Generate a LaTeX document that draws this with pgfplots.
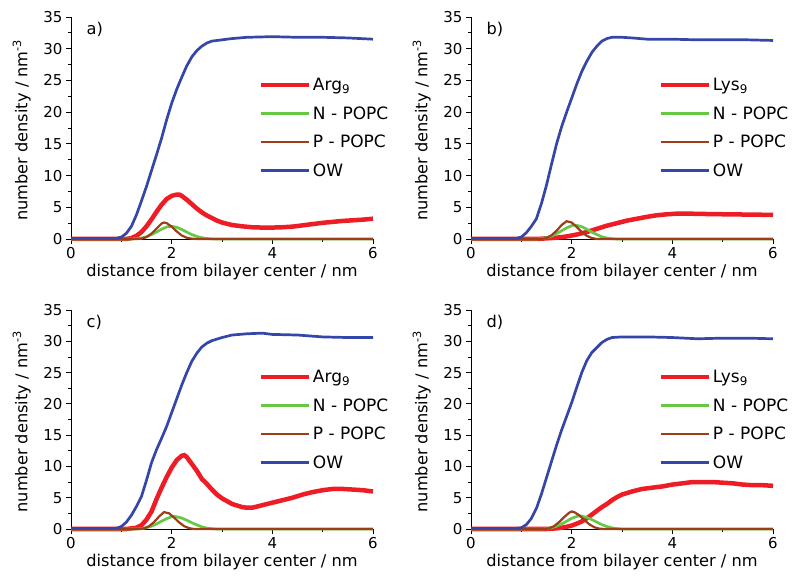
\documentclass[border=0pt]{standalone}
\usepackage{pgfplots}
\pgfplotsset{compat=1.18}
\usepackage{fontspec}
\setmainfont{DejaVu Sans}
\definecolor{cred}{HTML}{EE1C24}
\definecolor{cgreen}{HTML}{66C844}
\definecolor{cbrown}{HTML}{9E3E18}
\definecolor{cblue}{HTML}{3446A8}
\newcommand\ff{\fontsize{16.2bp}{19bp}\selectfont}
\newcommand\ft{\fontsize{15bp}{18bp}\selectfont}
\newcommand\fl{\fontsize{17bp}{20bp}\selectfont}
\pgfplotsset{
  panel/.style={
    scale only axis, width=302bp,
    xmin=0, xmax=6, ymin=0, ymax=35,
    axis x line*=bottom, axis y line*=left,
    axis line style={black, line width=0.8bp},
    xtick={0,2,4,6}, ytick={0,5,...,35},
    minor x tick num=1, minor y tick num=1,
    tick align=outside,
    major tick length=5bp, minor tick length=3bp,
    every tick/.style={black, line width=0.8bp},
    /pgf/number format/assume math mode=true,
    tick label style={font=\ft},
    label style={font=\ff},
    xlabel={distance from bilayer center / nm},
    ylabel={number density / nm\textsuperscript{-3}},
    xlabel style={at={(axis description cs:0.5,0)}, anchor=center, yshift=-33bp},
    ylabel style={at={(axis description cs:-0.163,0.49)}, anchor=center},
    clip=false,
    legend cell align=left,
    legend style={at={(rel axis cs:0.62,0.735)}, anchor=north west, draw=none, fill=none,
      font=\fl, row sep=10.5bp, inner sep=0pt},
    legend image code/.code={\draw[#1] (0bp,0bp) -- (48bp,0bp);},
  },
  sred/.style={cred, line width=4.5bp},
  sgreen/.style={cgreen, line width=2.7bp},
  sbrown/.style={cbrown, line width=2.2bp},
  sblue/.style={cblue, line width=2.7bp},
}
\begin{document}
\begin{tikzpicture}
\useasboundingbox (0bp,0bp) rectangle (800bp,588bp);
% ---------------- a)
\begin{axis}[panel, at={(71bp,349bp)}, height=222bp]
\addplot[sred] coordinates {(0,0) (1.1,0) (1.2,0.15) (1.3,0.5) (1.4,1.1) (1.5,2.0) (1.6,3.1) (1.7,4.3) (1.8,5.4) (1.9,6.3) (2.0,6.8) (2.1,7.0) (2.15,7.0) (2.2,6.8) (2.3,6.2) (2.4,5.5) (2.5,4.8) (2.6,4.2) (2.7,3.7) (2.8,3.3) (2.9,2.9) (3.0,2.6) (3.2,2.2) (3.4,2.0) (3.6,1.85) (3.8,1.8) (4.0,1.8) (4.2,1.85) (4.4,1.95) (4.6,2.15) (4.8,2.35) (5.0,2.55) (5.2,2.7) (5.4,2.85) (5.6,2.95) (5.8,3.05) (6.0,3.2)};
\addlegendentry{Arg\textsubscript{9}}
\addplot[sgreen] coordinates {(0,0) (1.2,0) (1.3,0.05) (1.4,0.15) (1.5,0.35) (1.6,0.7) (1.7,1.1) (1.8,1.55) (1.9,1.9) (2.0,2.0) (2.1,1.85) (2.2,1.5) (2.3,1.1) (2.4,0.7) (2.5,0.4) (2.6,0.2) (2.7,0.08) (2.8,0.02) (2.9,0) (6,0)};
\addlegendentry{N - POPC}
\addplot[sbrown] coordinates {(0,0) (1.3,0) (1.4,0.05) (1.5,0.3) (1.6,0.85) (1.7,1.65) (1.8,2.45) (1.85,2.6) (1.9,2.5) (2.0,1.95) (2.1,1.2) (2.2,0.55) (2.3,0.2) (2.4,0.05) (2.5,0) (6,0)};
\addlegendentry{P - POPC}
\addplot[sblue] coordinates {(0,0.1) (0.9,0.1) (1.0,0.3) (1.1,0.9) (1.2,2.0) (1.3,3.8) (1.4,6.0) (1.5,8.3) (1.6,10.8) (1.7,13.3) (1.8,15.9) (1.9,18.8) (2.0,21.4) (2.1,23.6) (2.2,25.5) (2.3,27.3) (2.4,28.7) (2.5,29.7) (2.6,30.4) (2.7,30.9) (2.8,31.2) (3.0,31.4) (3.2,31.6) (3.5,31.8) (4.0,31.9) (4.5,31.8) (5.0,31.8) (5.5,31.7) (6.0,31.5)};
\addlegendentry{OW}
\node[anchor=west, font=\ff] at (rel axis cs:0.04,0.946) {a)};
\end{axis}
% ---------------- b)
\begin{axis}[panel, at={(471bp,349bp)}, height=222bp]
\addplot[sred] coordinates {(0,0) (1.3,0) (1.5,0.1) (1.7,0.2) (1.9,0.4) (2.1,0.7) (2.3,1.1) (2.5,1.6) (2.7,2.1) (2.9,2.5) (3.1,2.9) (3.3,3.2) (3.5,3.5) (3.7,3.75) (3.9,3.9) (4.1,4.0) (4.3,4.0) (4.6,3.95) (5.0,3.9) (5.5,3.85) (6.0,3.8)};
\addlegendentry{Lys\textsubscript{9}}
\addplot[sgreen] coordinates {(0,0) (1.3,0) (1.4,0.05) (1.5,0.2) (1.6,0.45) (1.7,0.85) (1.8,1.3) (1.9,1.75) (2.0,2.1) (2.05,2.2) (2.1,2.15) (2.2,1.95) (2.3,1.55) (2.4,1.1) (2.5,0.7) (2.6,0.35) (2.7,0.15) (2.8,0.05) (2.9,0) (6,0)};
\addlegendentry{N - POPC}
\addplot[sbrown] coordinates {(0,0) (1.4,0) (1.5,0.15) (1.6,0.6) (1.7,1.3) (1.8,2.2) (1.9,2.8) (2.0,2.6) (2.1,1.9) (2.2,1.1) (2.3,0.5) (2.4,0.15) (2.5,0) (6,0)};
\addlegendentry{P - POPC}
\addplot[sblue] coordinates {(0,0.1) (0.9,0.1) (1.0,0.3) (1.1,1.0) (1.2,2.0) (1.3,3.2) (1.4,5.6) (1.5,8.5) (1.6,11.8) (1.7,15.0) (1.8,17.7) (1.9,20.0) (2.0,22.2) (2.1,24.4) (2.2,26.4) (2.3,28.0) (2.4,29.4) (2.5,30.4) (2.6,31.2) (2.7,31.6) (2.8,31.8) (3.0,31.8) (3.2,31.7) (3.5,31.5) (4.0,31.5) (4.5,31.4) (5.0,31.4) (5.5,31.4) (6.0,31.3)};
\addlegendentry{OW}
\node[anchor=west, font=\ff] at (rel axis cs:0.04,0.946) {b)};
\end{axis}
% ---------------- c)
\begin{axis}[panel, at={(71bp,59bp)}, height=219bp]
\addplot[sred] coordinates {(0,0) (1.1,0) (1.2,0.1) (1.3,0.2) (1.4,0.6) (1.5,1.5) (1.6,2.8) (1.7,4.8) (1.8,6.6) (1.9,8.3) (2.0,9.8) (2.1,11.0) (2.2,11.7) (2.25,11.8) (2.3,11.5) (2.4,10.4) (2.5,9.3) (2.6,8.0) (2.7,7.2) (2.8,6.3) (2.9,5.5) (3.0,4.9) (3.2,4.0) (3.4,3.5) (3.5,3.4) (3.6,3.4) (3.8,3.8) (4.0,4.2) (4.2,4.6) (4.4,5.0) (4.6,5.5) (4.8,5.9) (5.0,6.2) (5.2,6.4) (5.4,6.4) (5.6,6.3) (5.8,6.2) (6.0,6.0)};
\addlegendentry{Arg\textsubscript{9}}
\addplot[sgreen] coordinates {(0,0) (1.3,0) (1.4,0.05) (1.5,0.2) (1.6,0.45) (1.7,0.8) (1.8,1.25) (1.9,1.65) (2.0,1.95) (2.05,2.0) (2.1,1.95) (2.2,1.75) (2.3,1.4) (2.4,1.0) (2.5,0.65) (2.6,0.35) (2.7,0.15) (2.8,0.05) (2.9,0) (6,0)};
\addlegendentry{N - POPC}
\addplot[sbrown] coordinates {(0,0) (1.35,0) (1.45,0.1) (1.55,0.45) (1.65,1.1) (1.75,2.0) (1.85,2.7) (1.95,2.5) (2.05,1.8) (2.15,1.05) (2.25,0.45) (2.35,0.12) (2.45,0) (6,0)};
\addlegendentry{P - POPC}
\addplot[sblue] coordinates {(0,0.1) (0.9,0.1) (1.0,0.4) (1.1,1.1) (1.2,2.2) (1.3,3.6) (1.4,5.2) (1.5,7.8) (1.6,10.6) (1.7,12.7) (1.8,14.5) (1.9,16.4) (2.0,18.6) (2.1,20.8) (2.2,23.0) (2.3,25.0) (2.4,26.8) (2.5,28.1) (2.6,29.1) (2.7,29.7) (2.8,30.1) (3.0,30.6) (3.2,31.0) (3.5,31.2) (3.8,31.3) (4.0,31.1) (4.5,31.0) (5.0,30.7) (5.5,30.6) (6.0,30.6)};
\addlegendentry{OW}
\node[anchor=west, font=\ff] at (rel axis cs:0.04,0.945) {c)};
\end{axis}
% ---------------- d)
\begin{axis}[panel, at={(471bp,59bp)}, height=219bp]
\addplot[sred] coordinates {(0,0) (1.5,0) (1.6,0.05) (1.7,0.1) (1.8,0.2) (1.9,0.35) (2.0,0.55) (2.1,0.85) (2.2,1.2) (2.3,1.7) (2.4,2.3) (2.5,2.9) (2.6,3.5) (2.7,4.0) (2.8,4.6) (2.9,5.1) (3.0,5.5) (3.2,6.0) (3.4,6.4) (3.6,6.6) (3.8,6.8) (4.0,7.1) (4.2,7.3) (4.4,7.5) (4.6,7.5) (4.8,7.5) (5.0,7.4) (5.2,7.3) (5.4,7.1) (5.6,7.0) (5.8,7.0) (6.0,6.9)};
\addlegendentry{Lys\textsubscript{9}}
\addplot[sgreen] coordinates {(0,0) (1.4,0) (1.5,0.05) (1.6,0.2) (1.7,0.45) (1.8,0.8) (1.9,1.25) (2.0,1.7) (2.1,2.0) (2.15,2.1) (2.2,2.05) (2.3,1.85) (2.4,1.5) (2.5,1.1) (2.6,0.7) (2.7,0.4) (2.8,0.18) (2.9,0.06) (3.0,0) (6,0)};
\addlegendentry{N - POPC}
\addplot[sbrown] coordinates {(0,0) (1.45,0) (1.55,0.1) (1.65,0.45) (1.75,1.1) (1.85,1.9) (1.95,2.6) (2.0,2.8) (2.05,2.7) (2.15,2.2) (2.25,1.45) (2.35,0.75) (2.45,0.28) (2.55,0.06) (2.65,0) (6,0)};
\addlegendentry{P - POPC}
\addplot[sblue] coordinates {(0,0.1) (0.9,0.1) (1.0,0.2) (1.1,0.7) (1.2,1.7) (1.3,3.3) (1.4,5.6) (1.5,8.2) (1.6,10.8) (1.7,13.4) (1.8,15.8) (1.9,18.0) (2.0,20.2) (2.1,22.6) (2.2,25.0) (2.3,26.9) (2.4,28.2) (2.5,29.0) (2.6,29.8) (2.7,30.3) (2.8,30.6) (3.0,30.7) (3.5,30.7) (4.0,30.6) (4.5,30.4) (5.0,30.5) (5.5,30.5) (6.0,30.4)};
\addlegendentry{OW}
\node[anchor=west, font=\ff] at (rel axis cs:0.04,0.945) {d)};
\end{axis}
\end{tikzpicture}
\end{document}
